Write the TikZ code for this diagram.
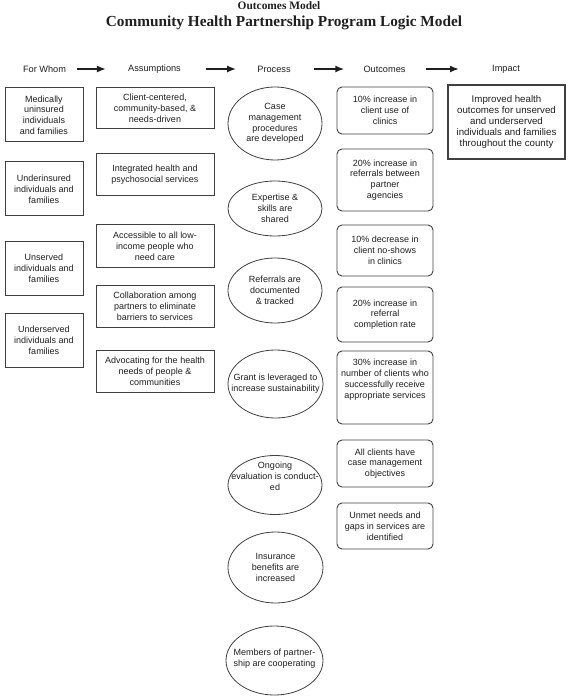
\documentclass[tikz,border=0pt]{standalone}
\usepackage{fontspec}
\setmainfont{Liberation Sans}
\newfontfamily\titlefont{Liberation Serif}
\usetikzlibrary{shapes.geometric,arrows.meta}
\definecolor{ink}{gray}{0.12}
\definecolor{edge}{gray}{0.25}
\tikzset{
  txt/.style={font=\fontsize{9}{10.8}\selectfont, text=ink, align=center, inner sep=0pt},
  hdr/.style={font=\fontsize{9.2}{11}\selectfont, text=ink, inner sep=0pt},
  sqbox/.style={txt, draw=edge, line width=1pt, rectangle, minimum height=#1},
  fwbox/.style={sqbox=#1, minimum width=78pt},
  abox/.style={sqbox=#1, minimum width=118pt},
  obox/.style={txt, draw=edge, line width=0.9pt, rectangle, rounded corners=5pt, minimum width=96pt, minimum height=#1},
  pell/.style={draw=edge, line width=0.8pt, ellipse, inner sep=0pt, minimum width=94pt, minimum height=#1},
  ibox/.style={font=\fontsize{9.7}{11.2}\selectfont, text=ink, align=center, inner sep=0pt, draw=edge, line width=1.3pt, minimum width=117pt, minimum height=74pt},
  flow/.style={-{Latex[length=9pt,width=7pt]}, line width=1.7pt, ink},
}
\begin{document}
\begin{tikzpicture}[x=1pt,y=-1pt]
\useasboundingbox (0,0) rectangle (567,700);
% titles
\node[font=\titlefont\bfseries\fontsize{11.4}{12}\selectfont, text=ink, inner sep=0pt] (sub) at (279,6) {Outcomes Model};
\node[font=\titlefont\bfseries\fontsize{15.3}{16}\selectfont, text=ink, inner sep=0pt] (title) at (284,22.5) {Community Health Partnership Program Logic Model};
% headers
\node[hdr] (hfw) at (44.5,69) {For Whom};
\node[hdr] (ha) at (154.5,69) {Assumptions};
\node[hdr] (hp) at (274,69) {Process};
\node[hdr] (ho) at (384.5,69) {Outcomes};
\node[hdr] (hi) at (506,69) {Impact};
\draw[flow] ([xshift=11pt]hfw.east) -- ([xshift=-22pt]ha.west);
\draw[flow] ([xshift=25pt]ha.east) -- ([xshift=-21pt]hp.west);
\draw[flow] ([xshift=23pt]hp.east) -- ([xshift=-19pt]ho.west);
\draw[flow] ([xshift=20pt]ho.east) -- ([xshift=-33pt]hi.west);
% For whom
\node[fwbox=54pt] (fw1) at (44,115) {Medically\\uninsured\\individuals\\and families};
\node[fwbox=54pt] (fw2) at (44,189) {Underinsured\\individuals and\\families};
\node[fwbox=53pt] (fw3) at (44,268.5) {Unserved\\individuals and\\families};
\node[fwbox=54pt] (fw4) at (44,340) {Underserved\\individuals and\\families};
% Assumptions
\node[abox=41pt] (a1) at (155,108.5) {Client-centered,\\community-based, \&\\needs-driven};
\node[abox=42pt] (a2) at (155,175) {Integrated health and\\psychosocial services};
\node[abox=42pt] (a3) at (155,246) {Accessible to all low-\\income people who\\need care};
\node[abox=42pt] (a4) at (155,306) {Collaboration among\\partners to eliminate\\barriers to services};
\node[abox=42pt] (a5) at (155,371) {Advocating for the health\\needs of people \&\\communities};
% Process
\node[pell=73pt, label={[txt]center:Case\\management\\procedures\\are developed}] (p1) at (275,123.5) {};
\node[pell=55pt, label={[txt]center:Expertise \&\\skills are\\shared}] (p2) at (275,208.5) {};
\node[pell=65pt, label={[txt]center:Referrals are\\documented\\\& tracked}] (p3) at (275,290.5) {};
\node[pell=68pt, minimum width=95pt, label={[txt]center:Grant is leveraged to\\increase sustainability}] (p4) at (275.5,384) {};
\node[pell=59pt, label={[txt,yshift=9pt]center:Ongoing\\evaluation is conduct-\\ed}] (p5) at (275,485) {};
\node[pell=71pt, minimum width=95pt, label={[txt]center:Insurance\\benefits are\\increased}] (p6) at (275.5,567.5) {};
\node[pell=69pt, minimum width=97pt, label={[txt,yshift=2pt]center:Members of partner-\\ship are cooperating}] (p7) at (274.5,660.5) {};
% Outcomes
\node[obox=47pt] (o1) at (385,110.5) {10\% increase in\\client use of\\clinics};
\node[obox=62pt] (o2) at (385,180) {20\% increase in\\referrals between\\partner\\agencies};
\node[obox=51pt] (o3) at (385,250.5) {10\% decrease in\\client no-shows\\in clinics};
\node[obox=55pt] (o4) at (385,314.5) {20\% increase in\\referral\\completion rate};
\node[obox=73pt, label={[txt,yshift=8pt]center:30\% increase in\\number of clients who\\successfully receive\\appropriate services}] (o5) at (385,387.5) {};
\node[obox=47pt] (o6) at (385,463.5) {All clients have\\case management\\objectives};
\node[obox=46pt] (o7) at (385,526) {Unmet needs and\\gaps in services are\\identified};
% Impact
\node[ibox] (imp) at (506.5,122) {Improved health\\outcomes for unserved\\and underserved\\individuals and families\\throughout the county};
\end{tikzpicture}
\end{document}
